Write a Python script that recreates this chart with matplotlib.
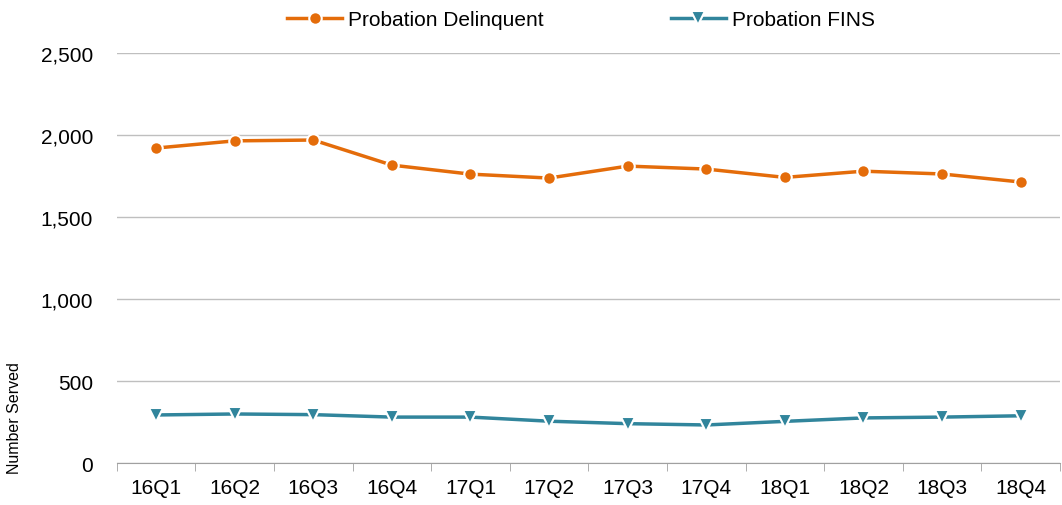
"""
Probation served per quarter.
"""

import matplotlib
matplotlib.use("Agg")
import matplotlib.pyplot as plt
import numpy as np

quarters = [
    "16Q1", "16Q2", "16Q3", "16Q4",
    "17Q1", "17Q2", "17Q3", "17Q4",
    "18Q1", "18Q2", "18Q3", "18Q4",
]

delinquent = [
    1921, 1965, 1970, 1817,
    1762, 1738, 1811, 1793,
    1742, 1780, 1763, 1714,
]

fins = [
    293, 299, 295, 280,
    280, 255, 240, 232,
    254, 275, 280, 288,
]

plt.rcParams["font.family"] = ["Liberation Sans", "DejaVu Sans"]

fig = plt.figure(figsize=(10.62, 5.06), dpi=100)
ax = fig.add_axes([0.110, 0.083, 0.888, 0.810])

x = np.arange(len(quarters))

ax.plot(
    x, delinquent,
    color="#E46C0A", linewidth=2.5,
    marker="o", markersize=9,
    markeredgecolor="white", markeredgewidth=1.5,
    label="Probation Delinquent", zorder=3
)

ax.plot(
    x, fins,
    color="#31859C", linewidth=2.5,
    marker="v", markersize=10,
    markeredgecolor="white", markeredgewidth=1.5,
    label="Probation FINS", zorder=3
)

ax.set_xlim(-0.5, len(quarters) - 0.5)
ax.set_ylim(0, 2500)
ax.set_yticks(np.arange(0, 2501, 500))
ax.set_yticklabels([f"{v:,}" for v in range(0, 2501, 500)])

ax.set_xticks(x)
ax.set_xticklabels(quarters)
ax.set_xticks(np.arange(-0.5, len(quarters), 1), minor=True)
ax.tick_params(axis="x", which="major", length=0, pad=11, labelsize=15)
ax.tick_params(axis="x", which="minor", length=6, color="#A0A0A0")
ax.tick_params(axis="y", length=0, pad=17, labelsize=15)

ax.grid(axis="y", color="#BFBFBF", linewidth=1)
ax.set_axisbelow(True)

for side in ["top", "right", "left"]:
    ax.spines[side].set_visible(False)
ax.spines["bottom"].set_color("#A0A0A0")

fig.text(
    15 / 1062, 1 - 474 / 506, "Number Served",
    rotation=90, ha="center", va="bottom", fontsize=11.5
)

fig.legend(
    loc="upper center", bbox_to_anchor=(0.547, 1.015),
    ncol=2, frameon=False, fontsize=15,
    columnspacing=6.1, handlelength=2.64, handletextpad=0.29
)

fig.savefig("out.png", dpi=100)
